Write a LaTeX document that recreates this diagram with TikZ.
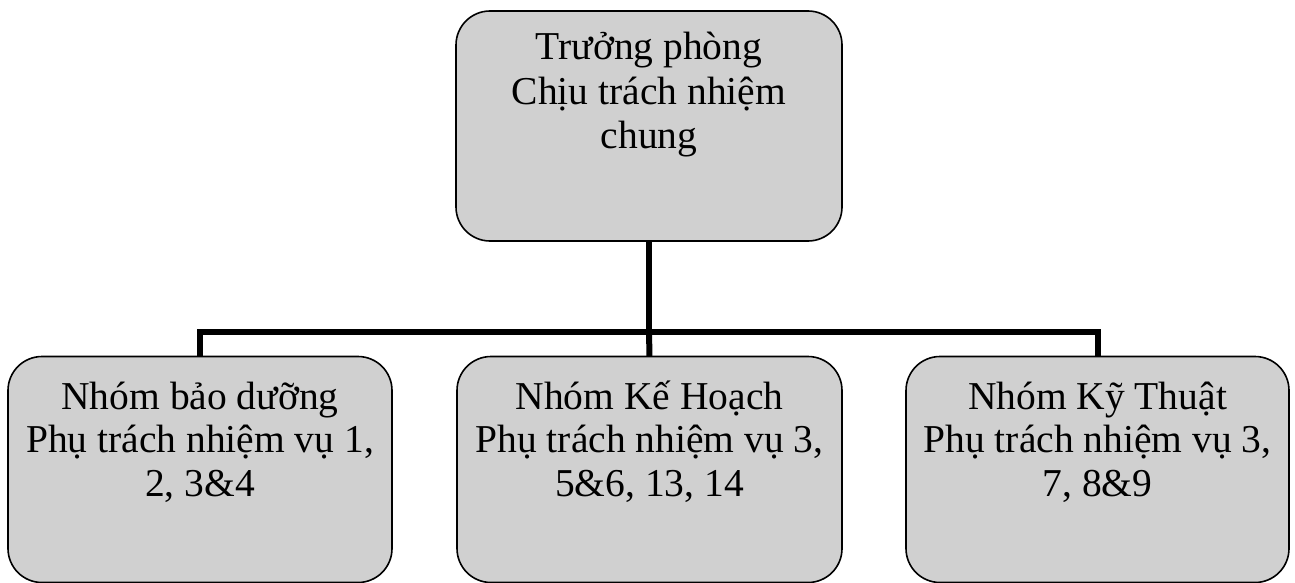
\documentclass[tikz,border=0pt]{standalone}
\usepackage{fontspec}
\setmainfont{Liberation Serif}
\definecolor{boxgray}{RGB}{208,208,208}
\begin{document}
\begin{tikzpicture}[x=1pt,y=-1pt,
  orgbox/.style={draw=black, line width=1.6pt, fill=boxgray, rounded corners=34pt,
    rectangle, inner sep=0pt, outer sep=0pt},
  conn/.style={draw=black, line width=6pt},
  txt/.style={anchor=base, inner sep=0pt, font=\fontsize{39.5}{44}\selectfont}]
\useasboundingbox (0,0) rectangle (1295,583);

% boxes
\node[orgbox, minimum width=386pt, minimum height=230pt] (head) at (649,126) {};
\node[orgbox, minimum width=384pt, minimum height=226pt] (maint) at (200,469.5) {};
\node[orgbox, minimum width=385pt, minimum height=226pt] (plan) at (649.5,469.5) {};
\node[orgbox, minimum width=383pt, minimum height=226pt] (tech) at (1097.5,469.5) {};

% connectors
\coordinate (bus) at (649,332);
\draw[conn] (head.south) -- (bus);
\draw[conn] (maint.north) |- (bus) -| (tech.north);
\draw[conn] (bus) -- (plan.north);

% text of the head box
\node[txt] (h1) at ([yshift=-49pt]head.north) {Trưởng phòng};
\node[txt] (h2) at ([yshift=-93.5pt]head.north) {Chịu trách nhiệm};
\node[txt] (h3) at ([yshift=-137.5pt]head.north) {chung};

% text of the group boxes
\node[txt] (m1) at ([yshift=-53pt]maint.north) {Nhóm bảo dưỡng};
\node[txt] (m2) at ([yshift=-96pt]maint.north) {Phụ trách nhiệm vụ 1,};
\node[txt] (m3) at ([yshift=-140pt]maint.north) {2, 3\&4};

\node[txt] (p1) at ([yshift=-53pt]plan.north) {Nhóm Kế Hoạch};
\node[txt] (p2) at ([yshift=-96pt]plan.north) {Phụ trách nhiệm vụ 3,};
\node[txt] (p3) at ([yshift=-140pt]plan.north) {5\&6, 13, 14};

\node[txt] (t1) at ([yshift=-53pt]tech.north) {Nhóm Kỹ Thuật};
\node[txt] (t2) at ([yshift=-96pt]tech.north) {Phụ trách nhiệm vụ 3,};
\node[txt] (t3) at ([yshift=-140pt]tech.north) {7, 8\&9};
\end{tikzpicture}
\end{document}
